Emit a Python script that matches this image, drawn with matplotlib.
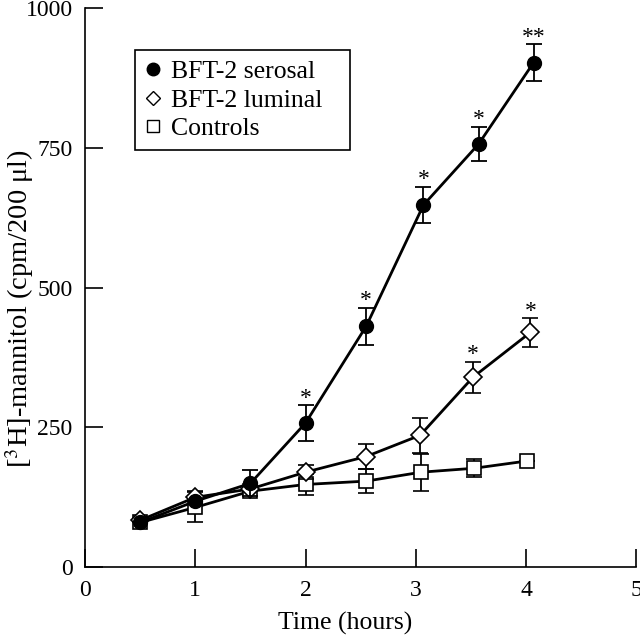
import matplotlib
matplotlib.use("Agg")
import matplotlib.pyplot as plt
from matplotlib.lines import Line2D

plt.rcParams['font.family'] = ['Liberation Serif', 'DejaVu Serif']
plt.rcParams['mathtext.fontset'] = 'stix'

# Data
serosal_t = [0.5, 1.0, 1.5, 2.0, 2.55, 3.07, 3.57, 4.07]
serosal_y = [80, 118, 150, 258, 431, 648, 757, 903]
serosal_err = [0, 0, 23, 32, 33, 33, 31, 33]

luminal_t = [0.5, 1.0, 1.5, 2.0, 2.55, 3.04, 3.52, 4.04]
luminal_y = [84, 125, 140, 170, 198, 236, 340, 420]
luminal_err = [0, 12, 0, 13, 22, 31, 28, 26]

control_t = [0.5, 1.0, 1.5, 2.0, 2.55, 3.05, 3.53, 4.01]
control_y = [80, 107, 136, 148, 154, 170, 177, 190]
control_err = [0, 27, 0, 19, 21, 33, 16, 0]

# asterisks: (time, value, error, label)
stars = [(2.0, 258, 32, '*'), (2.55, 431, 33, '*'), (3.07, 648, 33, '*'),
         (3.57, 757, 31, '*'), (4.07, 903, 33, '**'),
         (3.52, 340, 28, '*'), (4.04, 420, 26, '*')]

fig = plt.figure(figsize=(6.4, 6.38), dpi=100)
ax = fig.add_axes([0.133, 0.111, 0.861, 0.876])

common = dict(color='black', linewidth=2, capsize=6, elinewidth=1.3, capthick=1.3)
ax.errorbar(control_t, control_y, yerr=control_err, marker='s', markersize=10,
            markerfacecolor='white', markeredgecolor='black', markeredgewidth=1.2, zorder=3, **common)
ax.errorbar(luminal_t, luminal_y, yerr=luminal_err, marker='D', markersize=9,
            markerfacecolor='white', markeredgecolor='black', markeredgewidth=1.2, zorder=4, **common)
ax.errorbar(serosal_t, serosal_y, yerr=serosal_err, marker='o', markersize=10,
            markerfacecolor='black', markeredgecolor='black', zorder=5, **common)

for t, v, e, s in stars:
    ax.annotate(s, (t, v + e), xytext=(0, 1), textcoords='offset points',
                ha='center', va='baseline', fontsize=17)

ax.set_xlim(0, 5)
ax.set_ylim(0, 1000)
ax.set_xticks([0, 1, 2, 3, 4, 5])
ax.set_yticks([0, 250, 500, 750, 1000])
ax.tick_params(direction='in', length=13, width=1.2, labelsize=17, pad=9)
ax.spines['top'].set_visible(False)
ax.spines['right'].set_visible(False)
ax.spines['left'].set_linewidth(1.2)
ax.spines['bottom'].set_linewidth(1.2)

ax.set_xlabel('Time (hours)', fontsize=18.5)
ax.xaxis.set_label_coords(0.472, -0.08)
ax.set_ylabel(r'[$^3$H]-mannitol (cpm/200 μl)', fontsize=20.5)
ax.yaxis.set_label_coords(-0.09, 0.462)

handles = [
    Line2D([], [], linestyle='none', marker='o', markersize=9, color='black'),
    Line2D([], [], linestyle='none', marker='D', markersize=7, markerfacecolor='white',
           markeredgecolor='black'),
    Line2D([], [], linestyle='none', marker='s', markersize=8, markerfacecolor='white',
           markeredgecolor='black'),
]
leg = ax.legend(handles, ['BFT-2 serosal', 'BFT-2 luminal', 'Controls'],
                loc='upper left', bbox_to_anchor=(0.091, 0.752, 0.39, 0.173),
                mode='expand', borderaxespad=0,
                fontsize=18.5, handlelength=0.6, handletextpad=0.4, labelspacing=0.2,
                borderpad=0.4, fancybox=False, framealpha=1, edgecolor='black')
leg.get_frame().set_linewidth(1.2)

fig.savefig('out.png', dpi=100)
